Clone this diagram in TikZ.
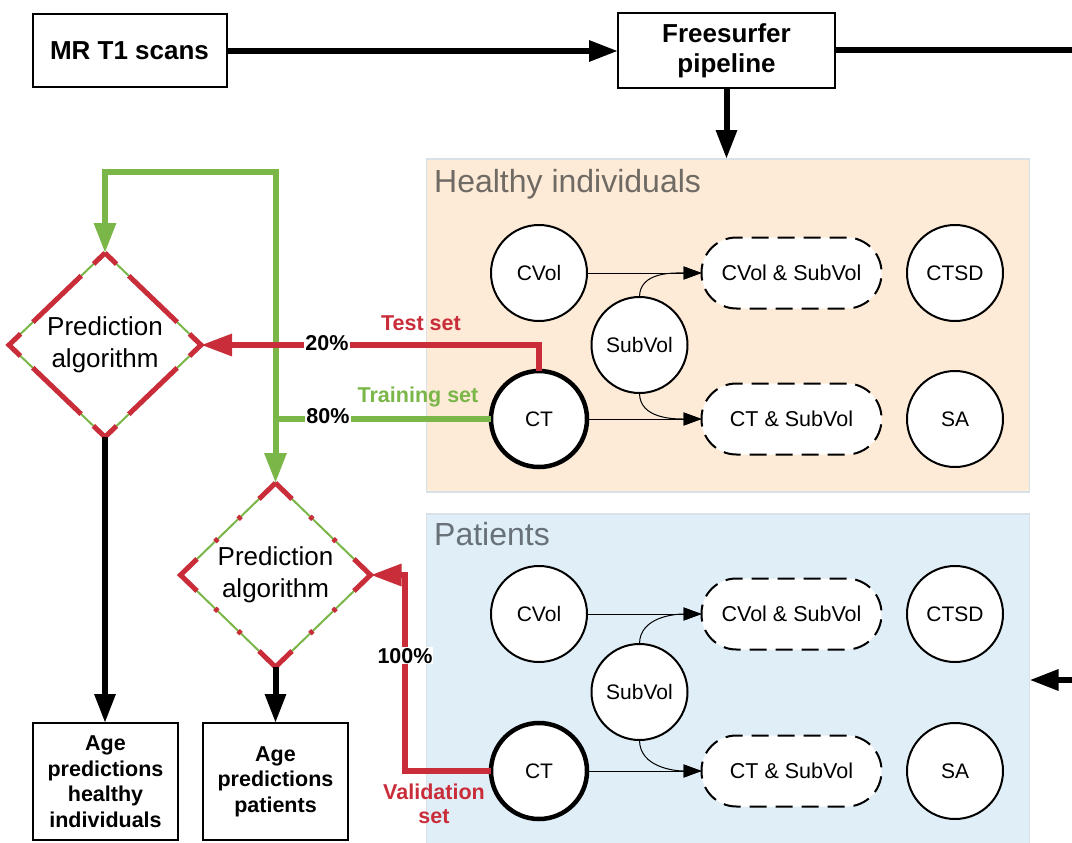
\documentclass[tikz,border=0pt]{standalone}
\usepackage{fontspec}
\setmainfont{Liberation Sans}
\usetikzlibrary{arrows.meta,shapes.geometric}
\definecolor{lred}{HTML}{C92D39}
\definecolor{lgreen}{HTML}{7AB648}
\definecolor{peach}{HTML}{FDEBD8}
\definecolor{lblue}{HTML}{E0EEF8}
\definecolor{boxedge}{HTML}{D9E1E8}
\definecolor{htitle}{HTML}{6F6A63}
\definecolor{ptitle}{HTML}{687178}
\begin{document}
\begin{tikzpicture}[x=1pt,y=-1pt,
  procbox/.style={draw=black, line width=2pt, fill=white, inner sep=0pt, outer sep=0pt, align=center, font=\bfseries\fontsize{26}{30}\selectfont},
  outbox/.style={draw=black, line width=2pt, fill=white, minimum width=145pt, minimum height=117pt, inner sep=0pt, outer sep=0pt, align=center, font=\bfseries\fontsize{21.5}{25.5}\selectfont},
  region/.style={draw=boxedge, line width=1.5pt, minimum width=603pt, inner sep=0pt, outer sep=0pt},
  rtitle/.style={anchor=base west, inner sep=0pt, font=\fontsize{32}{36}\selectfont},
  feat/.style={circle, draw=black, line width=2pt, fill=white, minimum size=96pt, inner sep=0pt, outer sep=0pt, font=\fontsize{21}{25}\selectfont},
  ctfeat/.style={feat, line width=4.5pt},
  combo/.style={rectangle, rounded corners=35pt, draw=black, line width=2pt, dash pattern=on 17pt off 9pt, fill=white, minimum width=180pt, minimum height=71pt, inner sep=0pt, outer sep=0pt, font=\fontsize{21.5}{25}\selectfont},
  algo/.style={diamond, minimum height=184pt, inner sep=0pt, outer sep=0pt, align=center, font=\fontsize{26}{32}\selectfont},
  flow/.style={draw=black, line width=6pt, -{Triangle[length=29pt,width=20pt]}},
  gflow/.style={draw=lgreen, line width=6pt, -{Triangle[length=30pt,width=21pt]}},
  rflow/.style={draw=lred, line width=6pt, -{Triangle[length=31pt,width=21pt]}},
  featarrow/.style={draw=black, line width=1pt, -{Triangle[length=18pt,width=13pt]}},
  pct/.style={anchor=base, fill=white, inner sep=1pt, font=\bfseries\fontsize{21.5}{25}\selectfont},
  setlbl/.style={anchor=base, inner sep=0pt, align=center, font=\bfseries\fontsize{21.5}{24.5}\selectfont},
]
\useasboundingbox (0,0) rectangle (1072,843);

% regions
\node[region, fill=peach, minimum height=333pt] (hb) at (728,325.5) {};
\node[rtitle, text=htitle] (ht) at (434,192) {Healthy individuals};
\node[region, fill=lblue, minimum height=332pt] (pb) at (728,680) {};
\node[rtitle, text=ptitle] (pt) at (434,545) {Patients};

% top boxes
\node[procbox, minimum width=194pt, minimum height=73pt] (mr) at (129.5,51) {MR T1 scans};
\node[procbox, minimum width=217pt, minimum height=75pt] (fs) at (726.5,50.5) {Freesurfer\\pipeline};
\coordinate (rout) at (1072,0);
\coordinate (rin) at (1072,680);

% healthy features
\node[feat] (cv1) at (539,273) {CVol};
\node[combo] (cs1) at (791.5,273) {CVol \& SubVol};
\node[feat] (sd1) at (955,273) {CTSD};
\node[feat] (sv1) at (639.5,345) {SubVol};
\node[ctfeat] (ct1) at (539,419) {CT};
\node[combo] (ts1) at (791.5,419) {CT \& SubVol};
\node[feat] (sa1) at (955,419) {SA};

% patient features
\node[feat] (cv2) at (539,614) {CVol};
\node[combo] (cs2) at (791.5,614) {CVol \& SubVol};
\node[feat] (sd2) at (955,614) {CTSD};
\node[feat] (sv2) at (639.5,692) {SubVol};
\node[ctfeat] (ct2) at (539,771) {CT};
\node[combo] (ts2) at (791.5,771) {CT \& SubVol};
\node[feat] (sa2) at (955,771) {SA};

% algorithms
\node[algo, minimum width=192pt] (d1) at (105,345) {Prediction\\algorithm};
\node[algo, minimum width=190pt] (d2) at (275.5,575) {Prediction\\algorithm};
\draw[lgreen, line width=2pt] (d1.north) -- (d1.east) -- (d1.south) -- (d1.west) -- cycle;
\draw[lred, line width=5pt, dash pattern=on 32pt off 17pt on 67pt off 17pt, dash phase=16pt] (d1.north) -- (d1.east) -- (d1.south) -- (d1.west) -- cycle;
\draw[lgreen, line width=2pt] (d2.north) -- (d2.east) -- (d2.south) -- (d2.west) -- cycle;
\draw[lred, line width=5pt, dash pattern=on 46pt off 25pt on 4pt off 28.25pt on 4pt off 25pt, dash phase=23pt] (d2.north) -- (d2.east) -- (d2.south) -- (d2.west) -- cycle;

% output boxes
\node[outbox] (ah) at (105.5,781.5) {Age\\predictions\\healthy\\individuals};
\node[outbox] (ap) at (275.5,781.5) {Age\\predictions\\patients};

% feature connectors
\draw[featarrow] (cv1) -- (cs1);
\draw[featarrow] (sv1.north) to[out=90,in=180] (cs1.west);
\draw[featarrow] (ct1) -- (ts1);
\draw[featarrow] (sv1.south) to[out=-90,in=180] (ts1.west);
\draw[featarrow] (cv2) -- (cs2);
\draw[featarrow] (sv2.north) to[out=90,in=180] (cs2.west);
\draw[featarrow] (ct2) -- (ts2);
\draw[featarrow] (sv2.south) to[out=-90,in=180] (ts2.west);

% main flow
\draw[flow] (mr.east) -- (mr.east -| fs.west);
\draw[draw=black, line width=6pt] (fs.east) -- (fs.east -| rout);
\draw[flow] (fs.south) -- (fs.south |- hb.north);
\draw[flow] (rin) -- (rin -| pb.east);
\draw[flow] (d1.south) -- (d1.south |- ah.north);
\draw[flow] (d2.south) -- (d2.south |- ap.north);

% training (green)
\coordinate (j) at (d2.north |- ct1.west);
\coordinate (gtop) at (275.5,172);
\draw[gflow] (ct1.west) -- (j) -- (gtop) -| (d1.north);
\draw[gflow] (j) -- (d2.north);

% test and validation (red)
\coordinate (rvx) at (405,0);
\draw[rflow] (ct1.north) -- (ct1.north |- d1.east) -- (d1.east);
\draw[rflow] (ct2.west) -- (ct2.west -| rvx) -- (rvx |- d2.east) -- (d2.east);

% labels
\node[pct] (p20) at (327,350) {20\%};
\node[pct] (p80) at (328,423) {80\%};
\node[pct] (p100) at (405,663) {100\%};
\node[setlbl, text=lred] (tst) at (421,330) {Test set};
\node[setlbl, text=lgreen] (trn) at (418,402) {Training set};
\node[setlbl, anchor=center, text=lred] (val) at (434,804) {Validation\\set};
\end{tikzpicture}
\end{document}
